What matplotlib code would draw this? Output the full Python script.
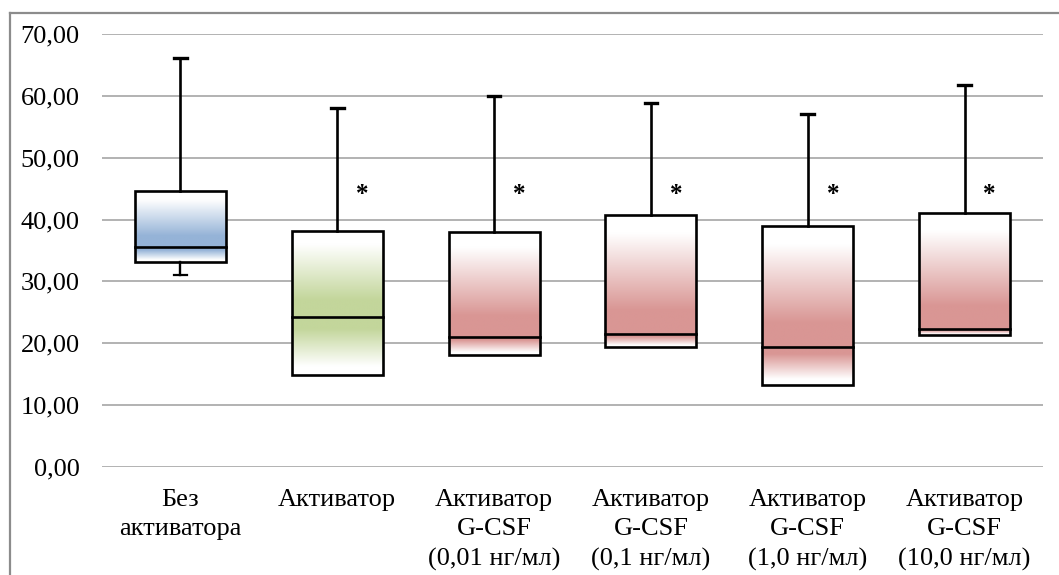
import numpy as np
import matplotlib.pyplot as plt
from matplotlib.colors import LinearSegmentedColormap
from matplotlib.patches import Rectangle
from matplotlib.lines import Line2D

plt.rcParams['font.family'] = ['Liberation Serif', 'DejaVu Serif']

categories = ['Без\nактиватора', 'Активатор', 'Активатор\nG-CSF\n(0,01 нг/мл)',
              'Активатор\nG-CSF\n(0,1 нг/мл)', 'Активатор\nG-CSF\n(1,0 нг/мл)',
              'Активатор\nG-CSF\n(10,0 нг/мл)']
minimum = [31.0, 14.9, 18.05, 19.45, 13.25, 21.3]
q1 = [33.2, 14.9, 18.05, 19.45, 13.25, 21.3]
median = [35.6, 24.25, 21.05, 21.5, 19.45, 22.25]
q3 = [44.6, 38.15, 38.05, 40.7, 38.95, 41.0]
maximum = [66.2, 58.0, 60.0, 58.9, 57.05, 61.75]
significant = [False, True, True, True, True, True]
box_colors = ['#95B3D7', '#C3D69B', '#D99694', '#D99694', '#D99694', '#D99694']

fig = plt.figure(figsize=(10.59, 5.75), dpi=100)
ax = fig.add_axes([102 / 1059, 108 / 575, 941 / 1059, 433 / 575])

# outer chart frame (only top and left edges fall inside the image)
fig.add_artist(Line2D([10 / 1059, 10 / 1059], [0, 1 - 13 / 575], transform=fig.transFigure,
                      color='#8c8c8c', lw=1.6))
fig.add_artist(Line2D([10 / 1059, 1], [1 - 13 / 575, 1 - 13 / 575], transform=fig.transFigure,
                      color='#8c8c8c', lw=1.6))

ax.set_xlim(-0.5, len(categories) - 0.5)
ax.set_ylim(0, 70)
ax.set_yticks(np.arange(0, 71, 10))
ax.set_yticklabels([f'{v:.2f}'.replace('.', ',') for v in np.arange(0, 71, 10)], fontsize=19)
ax.set_xticks(range(len(categories)))
ax.set_xticklabels(categories, fontsize=19, linespacing=1.42)
ax.tick_params(axis='y', length=0, pad=16)
ax.tick_params(axis='x', length=0, pad=16)
for s in ax.spines.values():
    s.set_visible(False)
ax.grid(axis='y', color='#a6a6a6', lw=1.2)
ax.set_axisbelow(True)

width = 0.58
ramp = np.linspace(0, 1, 256).reshape(-1, 1)

for i in range(len(categories)):
    x0, x1 = i - width / 2, i + width / 2
    cmap = LinearSegmentedColormap.from_list(
        'g', [(0.0, 'white'), (0.15, 'white'), (0.8, box_colors[i]), (1.0, box_colors[i])])
    # upper half: white at Q3 fading into colour at the median
    ax.imshow(ramp, cmap=cmap, extent=(x0, x1, median[i], q3[i]), origin='upper',
              aspect='auto', zorder=2, interpolation='bilinear')
    # lower half: colour at the median fading to white at Q1
    ax.imshow(ramp, cmap=cmap, extent=(x0, x1, q1[i], median[i]), origin='lower',
              aspect='auto', zorder=2, interpolation='bilinear')
    ax.add_patch(Rectangle((x0, q1[i]), width, q3[i] - q1[i], fill=False,
                           ec='black', lw=1.9, zorder=3))
    ax.plot([x0, x1], [median[i], median[i]], color='black', lw=1.9, zorder=3)
    ax.plot([i, i], [q3[i], maximum[i]], color='black', lw=1.9, zorder=3)
    ax.plot([i - 0.04, i + 0.04], [maximum[i], maximum[i]], color='black', lw=2.4, zorder=3)
    if minimum[i] < q1[i]:
        ax.plot([i, i], [minimum[i], q1[i]], color='black', lw=1.7, zorder=3)
        ax.plot([i - 0.04, i + 0.04], [minimum[i], minimum[i]], color='black', lw=1.6, zorder=3)
    if significant[i]:
        ax.text(i + 0.16, 44.0, '*', ha='center', va='center', fontsize=18,
                fontweight='bold', zorder=4)

ax.set_xlim(-0.5, len(categories) - 0.5)
ax.set_ylim(0, 70)

fig.savefig('out.png', dpi=100)
